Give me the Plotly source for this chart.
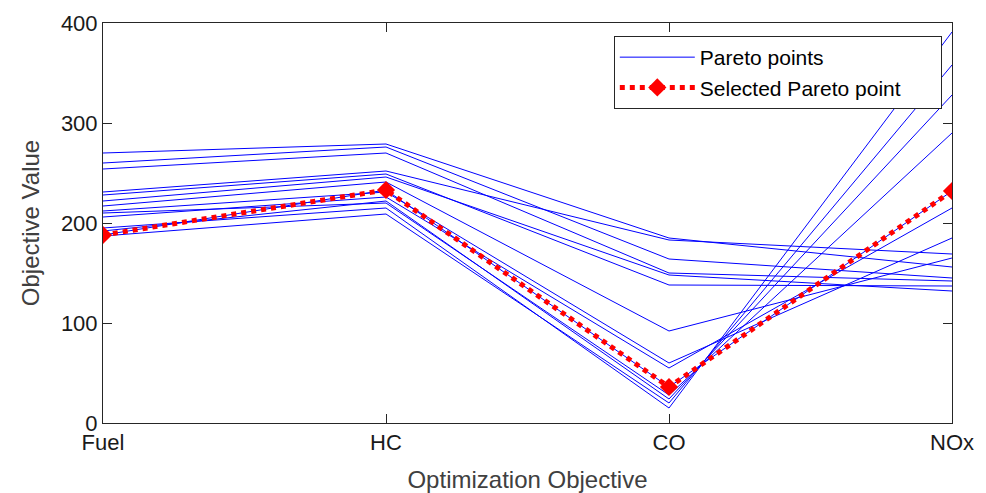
import plotly.graph_objects as go

# Objective axes
objectives = ["Fuel", "HC", "CO", "NOx"]

# Pareto front: one value per objective for each solution
pareto_fuel = [270, 260, 254, 231, 228, 222, 217, 212, 206, 210, 195, 187, 192, 188]
pareto_hc = [279, 276, 270, 252, 249, 246, 241, 231, 226, 220, 215, 209, 222, 233]
pareto_co = [185, 164, 150, 183, 138, 148, 92, 60, 55, 28, 15, 20, 24, 36]
pareto_nox = [156, 145, 142, 169, 137, 132, 165, 185, 215, 290, 391, 358, 328, 232]

# Chosen compromise solution
selected = [188, 233, 36, 232]

y_ticks = [0, 100, 200, 300, 400]

font_family = "Arial, Liberation Sans, sans-serif"
axis_color = "#262626"
pad = "\u00a0" * 6  # right padding inside the legend box

fig = go.Figure()

x_idx = list(range(len(objectives)))
for i, vals in enumerate(zip(pareto_fuel, pareto_hc, pareto_co, pareto_nox)):
    fig.add_trace(go.Scatter(
        x=x_idx, y=list(vals), mode="lines",
        line=dict(color="#0000FF", width=1),
        name="Pareto points", legendgroup="pareto",
        showlegend=(i == 0), hoverinfo="skip",
    ))

fig.add_trace(go.Scatter(
    x=x_idx, y=selected, mode="lines+markers",
    line=dict(color="#FF0000", width=5, dash="5px,5px"),
    marker=dict(symbol="diamond", size=14, color="#FF0000"),
    name="Selected Pareto point" + pad,
))

axis_common = dict(
    showline=True, linecolor=axis_color, linewidth=1, mirror="ticks",
    ticks="inside", ticklen=9, tickcolor=axis_color, showgrid=False,
    zeroline=False, automargin=False,
    tickfont=dict(family=font_family, size=22, color="#1a1a1a"),
)

fig.update_xaxes(
    range=[0, 3], tickmode="array", tickvals=x_idx, ticktext=objectives,
    title=dict(text="Optimization Objective", standoff=16,
               font=dict(family=font_family, size=24, color="#404040")),
    **axis_common,
)
fig.update_yaxes(
    range=[0, 400], tickmode="array", tickvals=y_ticks,
    ticktext=[str(v) for v in y_ticks],
    title=dict(text="Objective Value", standoff=14,
               font=dict(family=font_family, size=24, color="#404040")),
    **axis_common,
)

fig.update_layout(
    width=986, height=493,
    margin=dict(l=103, r=34, t=23, b=70),
    plot_bgcolor="white", paper_bgcolor="white",
    font=dict(family=font_family, size=22, color="black"),
    legend=dict(
        x=0.988, y=0.9675, xanchor="right", yanchor="top",
        bgcolor="white", bordercolor=axis_color, borderwidth=1,
        font=dict(family=font_family, size=21, color="black"),
        tracegroupgap=0, itemwidth=75,
    ),
)

fig.write_html("out.html")
